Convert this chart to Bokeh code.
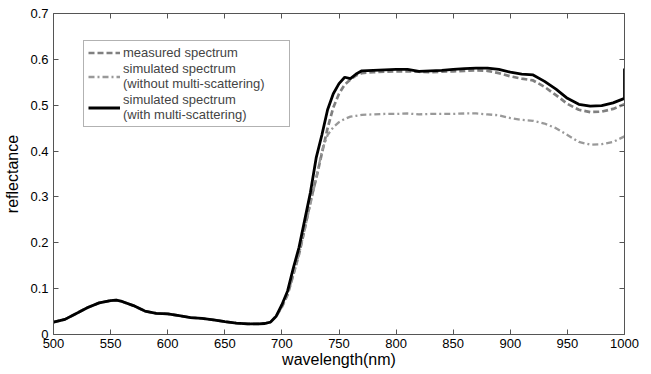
from bokeh.plotting import figure
from bokeh.models import LinearAxis, FixedTicker, CustomJSTickFormatter, Legend, LegendItem, Range1d
from bokeh.embed import file_html
from bokeh.resources import INLINE

wavelength = [500, 510, 520, 530, 540, 550, 555, 560, 570, 580, 590, 600, 610, 620, 630, 640,
              650, 660, 670, 680, 685, 690, 695, 700, 705, 710, 715, 720, 725, 730, 735, 740,
              745, 750, 755, 760, 765, 770, 780, 790, 800, 810, 820, 830, 840, 850, 860, 870,
              880, 890, 900, 910, 920, 930, 940, 950, 960, 970, 980, 990, 1000]

low_part = [0.027, 0.033, 0.046, 0.059, 0.069, 0.074, 0.075, 0.072, 0.063, 0.051, 0.046, 0.045,
            0.041, 0.037, 0.035, 0.032, 0.028, 0.025, 0.023, 0.023, 0.024, 0.027, 0.040]

with_ms = low_part + [0.065, 0.095, 0.145, 0.19, 0.25, 0.31, 0.385, 0.435, 0.49, 0.525, 0.547,
                      0.561, 0.558, 0.568, 0.575, 0.576, 0.577, 0.578, 0.578, 0.574, 0.575,
                      0.576, 0.578, 0.580, 0.581, 0.581, 0.578, 0.572, 0.568, 0.566, 0.552,
                      0.535, 0.515, 0.502, 0.498, 0.499, 0.505, 0.515]
with_ms_tail_wl = [1000]
with_ms_tail = [0.58]

measured = low_part + [0.060, 0.087, 0.13, 0.175, 0.23, 0.29, 0.34, 0.395, 0.45, 0.495, 0.525,
                       0.545, 0.556, 0.565, 0.570, 0.572, 0.573, 0.574, 0.574, 0.573, 0.572,
                       0.573, 0.574, 0.575, 0.576, 0.575, 0.570, 0.563, 0.558, 0.554, 0.540,
                       0.522, 0.503, 0.490, 0.485, 0.486, 0.492, 0.502]

without_ms = low_part + [0.060, 0.087, 0.13, 0.175, 0.23, 0.285, 0.34, 0.40, 0.435, 0.452, 0.463,
                         0.470, 0.475, 0.477, 0.479, 0.480, 0.481, 0.481, 0.482, 0.480, 0.481,
                         0.481, 0.481, 0.482, 0.482, 0.480, 0.478, 0.472, 0.468, 0.466, 0.460,
                         0.450, 0.435, 0.420, 0.414, 0.415, 0.420, 0.432]

x_ticks = [500, 550, 600, 650, 700, 750, 800, 850, 900, 950, 1000]
y_ticks = [0, 0.1, 0.2, 0.3, 0.4, 0.5, 0.6, 0.7]
labels = ["measured spectrum",
          "simulated spectrum\n(without multi-scattering)",
          "simulated spectrum\n(with multi-scattering)"]

FONT = "Liberation Sans"
AX = "#555555"

p = figure(frame_width=571, frame_height=321, output_backend="svg", toolbar_location=None,
           x_range=Range1d(500, 1000), y_range=Range1d(0, 0.7),
           min_border_left=53, min_border_right=27, min_border_top=13, min_border_bottom=40,
           x_axis_label="wavelength(nm)", y_axis_label="reflectance")
p.grid.visible = False
p.outline_line_color = None
p.background_fill_color = "white"
p.border_fill_color = "white"

r_meas = p.line(wavelength, measured, line_color="#808080", line_width=2.7, line_dash="6 3")
r_wo = p.line(wavelength, without_ms, line_color="#999999", line_width=2.3, line_dash="6 3 2 3")
r_w = p.line(wavelength + with_ms_tail_wl, with_ms + with_ms_tail, line_color="black", line_width=2.8)

p.xaxis.ticker = FixedTicker(ticks=x_ticks)
p.yaxis.ticker = FixedTicker(ticks=y_ticks)
p.yaxis.major_label_overrides = {0: "0"}

for ax in [p.xaxis[0], p.yaxis[0]]:
    ax.axis_line_color = AX
    ax.major_tick_line_color = AX
    ax.major_tick_in = 5
    ax.major_tick_out = 0
    ax.minor_tick_line_color = None
    ax.major_label_text_font = FONT
    ax.major_label_text_font_size = "13px"
    ax.major_label_text_color = "black"
    ax.axis_label_text_font = FONT
    ax.axis_label_text_font_size = "16px"
    ax.axis_label_text_font_style = "normal"
    ax.axis_label_text_color = "black"
p.xaxis.major_label_standoff = 4
p.xaxis.axis_label_standoff = 0
p.yaxis.major_label_standoff = 5
p.yaxis.axis_label_standoff = 6

blank = CustomJSTickFormatter(code="return ''")
top = LinearAxis(ticker=FixedTicker(ticks=x_ticks), formatter=blank)
right = LinearAxis(ticker=FixedTicker(ticks=y_ticks), formatter=blank)
for ax in [top, right]:
    ax.axis_line_color = AX
    ax.major_tick_line_color = AX
    ax.major_tick_in = 5
    ax.major_tick_out = 0
    ax.minor_tick_line_color = None
    ax.major_label_standoff = 0
    ax.major_label_text_font_size = "1px"
p.add_layout(top, "above")
p.add_layout(right, "right")

legend = Legend(items=[LegendItem(label=labels[0], renderers=[r_meas]),
                       LegendItem(label=labels[1], renderers=[r_wo]),
                       LegendItem(label=labels[2], renderers=[r_w])],
                location=(30, 207), margin=0, padding=4, spacing=1,
                glyph_width=32, glyph_height=15, label_height=15, label_width=162,
                label_standoff=3,
                label_text_font=FONT, label_text_font_size="13px", label_text_line_height=1.12,
                border_line_color="#666666", border_line_width=1,
                background_fill_color="white", background_fill_alpha=1)
p.add_layout(legend, "center")

open("out.html", "w").write(file_html(p, INLINE))
